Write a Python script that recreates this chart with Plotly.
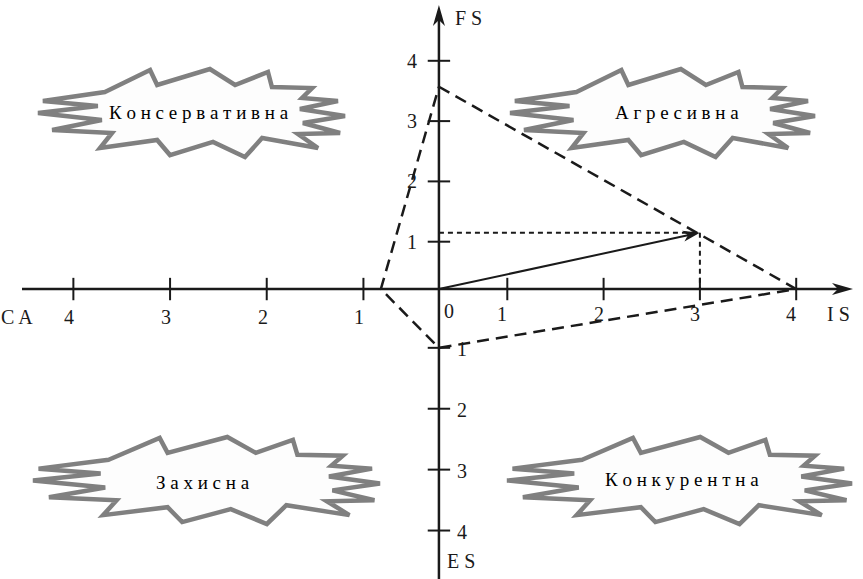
import plotly.graph_objects as go

# ---------------- data ----------------
tick_values = [1, 2, 3, 4]
tick_labels = ["1", "2", "3", "4"]
axis_names = ["I S", "C A", "F S", "E S"]          # right, left, up, down
quadrant_names = ["Консервативна", "Агресивна", "Захисна", "Конкурентна"]
polygon_fs = 3.57    # financial strength
polygon_is = 4.0     # industry strength
polygon_es = 1.0     # environmental stability (negative side)
polygon_ca = 0.82    # competitive advantage (negative side)
vector_is = 3.0
vector_fs = 1.15

# ---------------- drawing frame (layout constants) ----------------
W, H = 863, 579
SX, SY = 96.3, 60.3            # pixels per unit
X_RANGE = [-411 / SX, (W - 411) / SX]
Y_RANGE = [(302 - H) / SY, 302 / SY]
AX_X0, AX_Y0 = 0.29, 0.215     # where the axes cross
CA_ZERO, CA_UNIT = 0.51, 1.004
ES_ZERO, ES_UNIT = 0.25, 1.01
INK = "#1a1a1a"
FONT = "Liberation Serif"


def is_x(v):
    return v


def ca_x(v):
    return CA_ZERO - CA_UNIT * v


def fs_y(v):
    return v


def es_y(v):
    return ES_ZERO - ES_UNIT * v


def arrow_head(tip, tail, length_px, half_w_px, notch=0.72):
    dx = (tip[0] - tail[0]) * SX
    dy = (tip[1] - tail[1]) * SY
    n = (dx * dx + dy * dy) ** 0.5
    ux, uy = dx / n, dy / n
    px_, py_ = -uy, ux
    tx, ty = tip[0] * SX, tip[1] * SY
    pts = [
        (tx, ty),
        (tx - ux * length_px + px_ * half_w_px, ty - uy * length_px + py_ * half_w_px),
        (tx - ux * length_px * notch, ty - uy * length_px * notch),
        (tx - ux * length_px - px_ * half_w_px, ty - uy * length_px - py_ * half_w_px),
    ]
    pts = [(a / SX, b / SY) for a, b in pts]
    return "M " + " L ".join(f"{a:.4f},{b:.4f}" for a, b in pts) + " Z"


fig = go.Figure()

# ---------------- starburst decorations ----------------
star_template = [
    (0.218, 0.267), (0.365, 0.022), (0.388, 0.189), (0.560, 0.011), (0.642, 0.189),
    (0.749, 0.044), (0.762, 0.211), (0.893, 0.222), (0.860, 0.333), (0.977, 0.367),
    (0.853, 0.456), (1.000, 0.533), (0.863, 0.611), (0.984, 0.722), (0.847, 0.733),
    (0.912, 0.889), (0.730, 0.778), (0.674, 0.989), (0.570, 0.822), (0.430, 0.967),
    (0.388, 0.800), (0.202, 0.889), (0.241, 0.722), (0.046, 0.689), (0.208, 0.578),
    (0.000, 0.500), (0.195, 0.422), (0.016, 0.367),
]
star_boxes = [(38, 68, 307, 90), (510, 68, 305, 90), (33, 436, 347, 89), (507, 436, 345, 89)]
star_text_pos = [(199, 113), (677, 113), (203, 482), (682, 480)]

for (x0, y0, w, h) in star_boxes:
    pts = [((x0 + u * w) / W, 1 - (y0 + v * h) / H) for u, v in star_template]
    path = "M " + " L ".join(f"{a:.4f},{b:.4f}" for a, b in pts) + " Z"
    fig.add_shape(type="path", path=path, xref="paper", yref="paper",
                  line=dict(color="#808080", width=4.5), fillcolor="#fdfdfd", layer="below")

for name, (cx, cy) in zip(quadrant_names, star_text_pos):
    fig.add_annotation(x=cx / W, y=1 - cy / H, xref="paper", yref="paper",
                       xanchor="center", yanchor="middle",
                       text="\u00a0".join(name), showarrow=False,
                       font=dict(family=FONT, size=19, color="black"))

# ---------------- axes ----------------
x_left_end = (22 - 411) / SX
x_tip = (853 - 411) / SX
y_bottom_end = Y_RANGE[0]
y_tip = (302 - 5) / SY

fig.add_trace(go.Scatter(x=[x_left_end, x_tip - 0.1], y=[AX_Y0, AX_Y0], mode="lines",
                         line=dict(color=INK, width=2.5), hoverinfo="skip", showlegend=False))
fig.add_trace(go.Scatter(x=[AX_X0, AX_X0], y=[y_bottom_end, y_tip - 0.15], mode="lines",
                         line=dict(color=INK, width=2.5), hoverinfo="skip", showlegend=False))
fig.add_shape(type="path", xref="x", yref="y", line=dict(width=0), fillcolor=INK,
              path=arrow_head((x_tip, AX_Y0), (x_left_end, AX_Y0), 21, 6))
fig.add_shape(type="path", xref="x", yref="y", line=dict(width=0), fillcolor=INK,
              path=arrow_head((AX_X0, y_tip), (AX_X0, y_bottom_end), 21, 6))

# tick marks
fig.add_trace(go.Scatter(
    x=[is_x(v) for v in tick_values] + [ca_x(v) for v in tick_values],
    y=[AX_Y0] * (2 * len(tick_values)), mode="markers",
    marker=dict(symbol="line-ns-open", size=16, color=INK, line=dict(color=INK, width=2)),
    hoverinfo="skip", showlegend=False))
fig.add_trace(go.Scatter(
    x=[AX_X0] * (2 * len(tick_values)),
    y=[fs_y(v) for v in tick_values] + [es_y(v) for v in tick_values], mode="markers",
    marker=dict(symbol="line-ew-open", size=16, color=INK, line=dict(color=INK, width=2)),
    hoverinfo="skip", showlegend=False))

# tick labels
lab_font = dict(family=FONT, size=20, color=INK)
for v, t in zip(tick_values, tick_labels):
    fig.add_annotation(x=is_x(v), y=AX_Y0, text=t, showarrow=False, xshift=-5, yshift=-25, font=lab_font)
    fig.add_annotation(x=ca_x(v), y=AX_Y0, text=t, showarrow=False, xshift=-4, yshift=-28, font=lab_font)
    fig.add_annotation(x=AX_X0, y=fs_y(v), text=t, showarrow=False, xshift=-27, yshift=0, font=lab_font)
    fig.add_annotation(x=AX_X0, y=es_y(v), text=t, showarrow=False, xshift=23, yshift=-1, font=lab_font)
fig.add_annotation(x=AX_X0, y=AX_Y0, text="0", showarrow=False, xshift=10, yshift=-22, font=lab_font)

# axis names
fig.add_annotation(x=(838 - 411) / SX, y=AX_Y0, text=axis_names[0], showarrow=False, yshift=-25, font=lab_font)
fig.add_annotation(x=(17 - 411) / SX, y=AX_Y0, text=axis_names[1], showarrow=False, yshift=-28, font=lab_font)
fig.add_annotation(x=AX_X0, y=y_tip, text=axis_names[2], showarrow=False, xshift=30, yshift=-13, font=lab_font)
fig.add_annotation(x=AX_X0, y=y_bottom_end, text=axis_names[3], showarrow=False, xshift=22, yshift=18, font=lab_font)

# ---------------- strategic position polygon ----------------
poly_x = [AX_X0, is_x(polygon_is), AX_X0, ca_x(polygon_ca), AX_X0]
poly_y = [fs_y(polygon_fs), AX_Y0, es_y(polygon_es), AX_Y0, fs_y(polygon_fs)]
fig.add_trace(go.Scatter(x=poly_x, y=poly_y, mode="lines",
                         line=dict(color=INK, width=2.5, dash="12px,7px"),
                         hoverinfo="skip", showlegend=False))

# dotted projections of the vector end
vx, vy = is_x(vector_is), fs_y(vector_fs)
fig.add_trace(go.Scatter(x=[AX_X0, vx, vx], y=[vy, vy, AX_Y0], mode="lines",
                         line=dict(color=INK, width=2, dash="5px,4px"),
                         hoverinfo="skip", showlegend=False))

# strategic vector
frac = 1 - 10 / (((vx - AX_X0) * SX) ** 2 + ((vy - AX_Y0) * SY) ** 2) ** 0.5
fig.add_trace(go.Scatter(x=[AX_X0, AX_X0 + (vx - AX_X0) * frac],
                         y=[AX_Y0, AX_Y0 + (vy - AX_Y0) * frac],
                         mode="lines", line=dict(color=INK, width=2),
                         hoverinfo="skip", showlegend=False))
fig.add_shape(type="path", xref="x", yref="y", line=dict(width=0), fillcolor=INK,
              path=arrow_head((vx, vy), (AX_X0, AX_Y0), 17, 5.5))

fig.update_layout(
    width=W, height=H, autosize=False,
    margin=dict(l=0, r=0, t=0, b=0),
    paper_bgcolor="white", plot_bgcolor="white",
    xaxis=dict(range=X_RANGE, visible=False, fixedrange=True),
    yaxis=dict(range=Y_RANGE, visible=False, fixedrange=True),
    showlegend=False,
)

fig.write_html("out.html", config={"displayModeBar": False},
               post_script="document.body.style.margin='0';document.body.style.overflow='hidden';")
